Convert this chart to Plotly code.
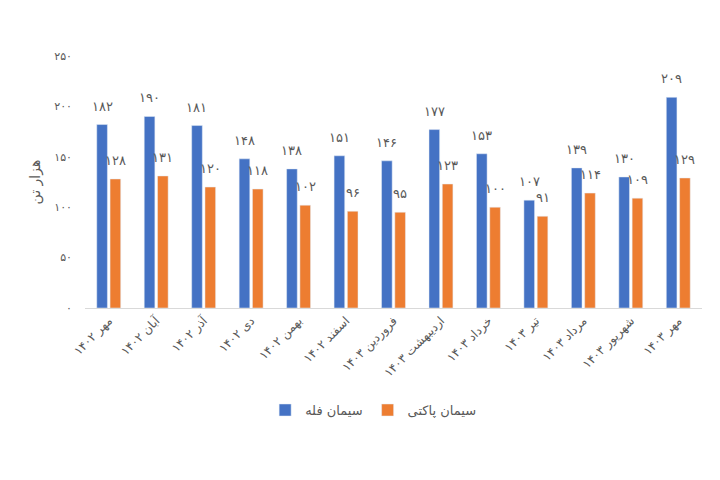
import plotly.graph_objects as go

categories = ["مهر ۱۴۰۲", "آبان ۱۴۰۲", "آذر ۱۴۰۲", "دی ۱۴۰۲", "بهمن ۱۴۰۲", "اسفند ۱۴۰۲",
              "فروردین ۱۴۰۳", "اردیبهشت ۱۴۰۳", "خرداد ۱۴۰۳", "تیر ۱۴۰۳", "مرداد ۱۴۰۳",
              "شهریور ۱۴۰۳", "مهر ۱۴۰۳"]
bulk = [182, 190, 181, 148, 138, 151, 146, 177, 153, 107, 139, 130, 209]
bagged = [128, 131, 120, 118, 102, 96, 95, 123, 100, 91, 114, 109, 129]
y_ticks = [0, 50, 100, 150, 200, 250]

fa_digits = str.maketrans("0123456789", "۰۱۲۳۴۵۶۷۸۹")
def fa(n):
    return str(n).translate(fa_digits)

FONT = "DejaVu Sans"
GRAY = "#595959"
BLUE = "#4472C4"
ORANGE = "#ED7D31"

fig = go.Figure()
fig.add_trace(go.Bar(x=categories, y=bulk, name="سیمان فله", marker_color=BLUE))
fig.add_trace(go.Bar(x=categories, y=bagged, name="سیمان پاکتی", marker_color=ORANGE))

annotations = []
for c, v in zip(categories, bulk):
    annotations.append(dict(x=c, y=v, text=fa(v), showarrow=False, xref="x", yref="y",
                            xshift=-6.7, yshift=9, yanchor="bottom",
                            font=dict(family=FONT, size=13, color=GRAY)))
for c, v in zip(categories, bagged):
    annotations.append(dict(x=c, y=v, text=fa(v), showarrow=False, xref="x", yref="y",
                            xshift=6.7, yshift=9, yanchor="bottom",
                            font=dict(family=FONT, size=13, color=GRAY)))

fig.update_layout(
    width=720, height=480,
    margin=dict(l=77, r=26, t=48, b=180),
    paper_bgcolor="white", plot_bgcolor="white",
    barmode="group", bargap=0.44, bargroupgap=0.2,
    font=dict(family=FONT, color=GRAY),
    showlegend=True,
    legend=dict(orientation="h", x=0.467, xanchor="center", y=-0.405, yanchor="middle",
                font=dict(family=FONT, size=13, color=GRAY), traceorder="normal"),
    annotations=annotations,
    xaxis=dict(tickangle=-45, showline=True, linecolor="#D9D9D9", linewidth=1,
               showgrid=False, ticks="", tickfont=dict(family=FONT, size=12, color=GRAY)),
    yaxis=dict(range=[0, 250], tickvals=y_ticks, ticktext=[fa(t) for t in y_ticks],
               showgrid=False, zeroline=False, showline=False, ticks="",
               ticklabelstandoff=12,
               tickfont=dict(family=FONT, size=11, color=GRAY),
               title=dict(text="هزار تن", font=dict(family=FONT, size=14, color=GRAY), standoff=10)),
)

fig.write_html("out.html")
